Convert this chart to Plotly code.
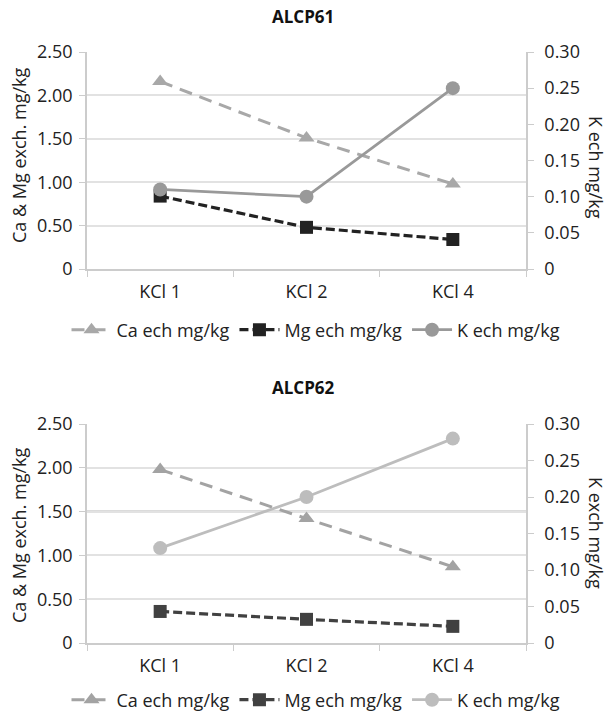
import plotly.graph_objects as go
from plotly.subplots import make_subplots

categories = ["KCl 1", "KCl 2", "KCl 4"]
titles = ["ALCP61", "ALCP62"]
right_titles = ["K ech mg/kg", "K exch mg/kg"]
left_title = "Ca &amp; Mg exch. mg/kg"

ca_61 = [2.16, 1.51, 0.98]
mg_61 = [0.84, 0.48, 0.34]
k_61 = [0.11, 0.10, 0.25]

ca_62 = [1.98, 1.42, 0.87]
mg_62 = [0.36, 0.27, 0.19]
k_62 = [0.13, 0.20, 0.28]

left_ticks = [0, 0.5, 1.0, 1.5, 2.0, 2.5]
left_text = ["0", "0.50", "1.00", "1.50", "2.00", "2.50"]
right_ticks = [0, 0.05, 0.10, 0.15, 0.20, 0.25, 0.30]
right_text = ["0", "0.05", "0.10", "0.15", "0.20", "0.25", "0.30"]

FONT = "Open Sans"
W, H = 607, 714


def px(x):
    return x / W


def py(y):
    return 1 - y / H


fig = make_subplots(rows=2, cols=1,
                    specs=[[{"secondary_y": True}], [{"secondary_y": True}]])

styles = [
    dict(ca="#a8a8a8", mg="#222222", k="#999999"),
    dict(ca="#a3a3a3", mg="#414141", k="#bdbdbd"),
]
data = [(ca_61, mg_61, k_61), (ca_62, mg_62, k_62)]
for i, (ca, mg, k) in enumerate(data):
    row = i + 1
    st = styles[i]
    lg = "legend" if i == 0 else "legend2"
    fig.add_trace(go.Scatter(x=categories, y=ca, name="Ca ech mg/kg", mode="lines+markers",
                             line=dict(color=st["ca"], width=3, dash="13px,8px"),
                             marker=dict(symbol="triangle-up", size=14, color=st["ca"]),
                             legend=lg), row=row, col=1, secondary_y=False)
    fig.add_trace(go.Scatter(x=categories, y=mg, name="Mg ech mg/kg", mode="lines+markers",
                             line=dict(color=st["mg"], width=3.2, dash="9px,4px"),
                             marker=dict(symbol="square", size=13, color=st["mg"]),
                             legend=lg), row=row, col=1, secondary_y=False)
    fig.add_trace(go.Scatter(x=categories, y=k, name="K ech mg/kg", mode="lines+markers",
                             line=dict(color=st["k"], width=2.8),
                             marker=dict(symbol="circle", size=14, color=st["k"]),
                             legend=lg), row=row, col=1, secondary_y=True)

doms = [[py(269), py(52)], [py(643), py(424)]]
xdom = [px(87), px(526)]
grid = "#e2e2e2"
axl = "#cccccc"
tfont = dict(family=FONT, size=18, color="#222")
for i in range(2):
    xa = "xaxis" if i == 0 else "xaxis2"
    ya = "yaxis" if i == 0 else "yaxis3"
    yb = "yaxis2" if i == 0 else "yaxis4"
    fig.layout[xa].update(domain=xdom, range=[-0.5, 2.5], tickson="boundaries",
                          ticks="outside", ticklen=6, tickcolor=axl, showline=True,
                          linecolor=axl, linewidth=1.5, showgrid=False,
                          ticklabelstandoff=6, tickfont=tfont)
    fig.layout[ya].update(domain=doms[i], range=[0, 2.5], tickvals=left_ticks,
                          ticktext=left_text, ticks="outside", ticklen=6, tickcolor=axl,
                          showline=True, linecolor=axl, linewidth=1.5, gridcolor=grid,
                          gridwidth=2, zeroline=False, ticklabelstandoff=3,
                          tickfont=tfont)
    fig.layout[yb].update(range=[0, 0.30], tickvals=right_ticks, ticktext=right_text,
                          ticks="outside", ticklen=6, tickcolor=axl, showline=True,
                          linecolor=axl, linewidth=1.5, showgrid=False, zeroline=False,
                          ticklabelstandoff=7, tickfont=tfont)

# darker 1.50 gridline seen in the second panel
fig.add_hline(y=left_ticks[3], line=dict(color="#b8b8b8", width=2), row=2, col=1,
              secondary_y=False, layer="below")

title_y = [py(16), py(387)]
lt_y = [py(155), py(535)]
rt_y = [py(167), py(533)]
ann = []
common_ann = dict(xref="paper", yref="paper", showarrow=False, xanchor="center", yanchor="middle")
for i in range(2):
    ann.append(dict(text="<b>" + titles[i] + "</b>", x=px(303), y=title_y[i],
                    font=dict(family=FONT, size=17, color="#111"), **common_ann))
    ann.append(dict(text=left_title, x=px(19), y=lt_y[i], textangle=-90,
                    font=dict(family=FONT, size=18, color="#222"), **common_ann))
    ann.append(dict(text=right_titles[i], x=px(596), y=rt_y[i], textangle=90,
                    font=dict(family=FONT, size=18, color="#222"), **common_ann))

legend_common = dict(orientation="h", xanchor="center", x=px(316), yanchor="middle",
                     font=dict(family=FONT, size=18, color="#222"), itemwidth=40,
                     bgcolor="rgba(0,0,0,0)")
fig.update_layout(
    width=W, height=H,
    margin=dict(l=0, r=0, t=0, b=0, autoexpand=False),
    paper_bgcolor="white", plot_bgcolor="white",
    annotations=ann,
    legend=dict(y=py(330), **legend_common),
    legend2=dict(y=py(700), **legend_common),
    showlegend=True,
)
fig.write_html("out.html", config={"displayModeBar": False},
               post_script="document.body.style.margin='0';document.body.style.overflow='hidden';")
